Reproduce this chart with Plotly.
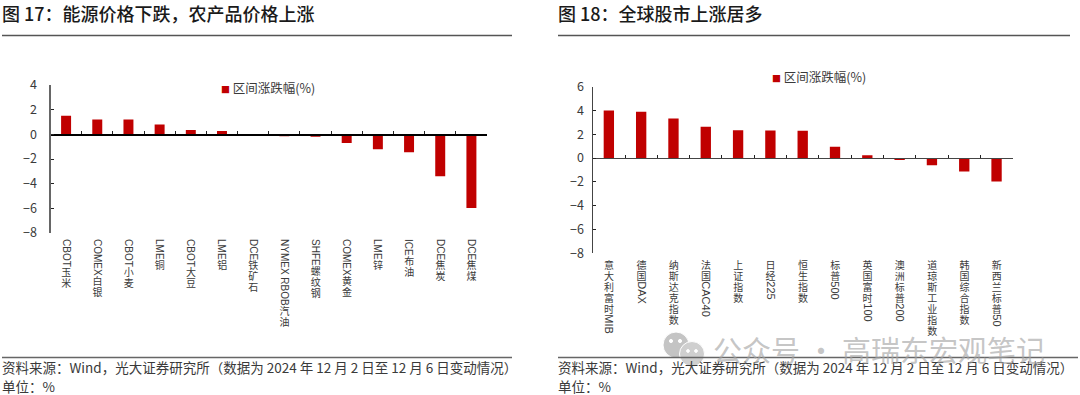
import plotly.graph_objects as go

W, H = 1080, 395
FONT = "Noto Sans CJK SC"
LABEL_FONT = "Liberation Sans, Noto Sans CJK SC"
RED = "#c00000"
INK = "#3a3a3a"

left_categories = ["CBOT玉米", "COMEX白银", "CBOT小麦", "LME铜", "CBOT大豆", "LME铝", "DCE铁矿石",
                   "NYMEX RBOB汽油", "SHFE螺纹钢", "COMEX黄金", "LME锌", "ICE布油", "DCE焦炭", "DCE焦煤"]
left_values = [1.5, 1.2, 1.2, 0.8, 0.35, 0.27, 0.0, -0.15, -0.2, -0.7, -1.2, -1.45, -3.4, -5.97]
right_categories = ["意大利富时MIB", "德国DAX", "纳斯达克指数", "法国CAC40", "上证指数", "日经225", "恒生指数",
                    "标普500", "英国富时100", "澳洲标普200", "道琼斯工业指数", "韩国综合指数", "新西兰标普50"]
right_values = [4.0, 3.89, 3.33, 2.63, 2.35, 2.32, 2.3, 0.95, 0.25, -0.17, -0.61, -1.12, -1.96]
left_yticks = [4, 2, 0, -2, -4, -6, -8]
right_yticks = [6, 4, 2, 0, -2, -4, -6, -8]
series_name = "区间涨跌幅(%)"
left_title = "图 17：能源价格下跌，农产品价格上涨"
right_title = "图 18：全球股市上涨居多"
source_text = "资料来源：Wind，光大证券研究所（数据为 2024 年 12 月 2 日至 12 月 6 日变动情况）"
unit_text = "单位：%"
watermark_text = "公众号 · 高瑞东宏观笔记"


def px(x):
    return x / W


def py(y):
    return 1 - y / H


fig = go.Figure()
panels = [
    dict(n=1, xname="x", yname="y", zname="x3", cats=left_categories, vals=left_values, ticks=left_yticks,
         x0=50.5, x1=487, top=85, bot=233, ywidth=2, ycolor="#666666", zcolor="#000000",
         lab=11, xoff=5, yoff=9),
    dict(n=2, xname="x2", yname="y2", zname="x4", cats=right_categories, vals=right_values, ticks=right_yticks,
         x0=592.7, x1=1012.7, top=86.7, bot=253.3, ywidth=1.2, ycolor="#444444", zcolor="#444444",
         lab=11, xoff=5, yoff=5),
]
layout = {}
for p in panels:
    xa, ya, xz = p["xname"], p["yname"], p["zname"]
    fig.add_trace(go.Bar(x=list(range(len(p["cats"]))), y=p["vals"], xaxis=xa, yaxis=ya, name=series_name,
                         marker=dict(color=RED, line=dict(width=0)), width=0.32, showlegend=False,
                         hoverinfo="skip"))
    # invisible trace that keeps the zero-crossing tick axis alive
    fig.add_trace(go.Scatter(x=[0], y=[0], xaxis=xz, yaxis=ya, mode="markers", marker=dict(opacity=0),
                             showlegend=False, hoverinfo="skip"))
    n_cat = len(p["cats"])
    dom_y = [py(p["bot"]), py(p["top"])]
    dom_x = [px(p["x0"]), px(p["x1"])]
    lo, hi = min(p["ticks"]), max(p["ticks"])
    zero_pos = dom_y[0] + (0 - lo) / (hi - lo) * (dom_y[1] - dom_y[0])
    layout["xaxis" + xa[1:]] = dict(domain=dom_x, anchor=ya, range=[-0.5, n_cat - 0.5], tickmode="array",
                                    tickvals=list(range(n_cat)), ticktext=p["cats"], tickangle=90, showline=False,
                                    showgrid=False, zeroline=False, ticks="", ticklen=0,
                                    ticklabelstandoff=p["xoff"],
                                    tickfont=dict(family=LABEL_FONT, size=p["lab"], color=INK))
    layout["yaxis" + ya[1:]] = dict(domain=dom_y, anchor=xa, range=[lo, hi], tickmode="array", tickvals=p["ticks"],
                                    showgrid=False, zeroline=False, showline=True, linecolor=p["ycolor"],
                                    linewidth=p["ywidth"], ticks="inside", ticklen=3, tickwidth=1,
                                    ticklabelstandoff=p["yoff"],
                                    tickcolor="#222222", tickfont=dict(family=FONT, size=12.5, color=INK))
    layout["xaxis" + xz[1:]] = dict(domain=dom_x, anchor="free", overlaying=xa, position=zero_pos,
                                    range=[-0.5, n_cat - 0.5], tickmode="array",
                                    tickvals=[i - 0.5 for i in range(1, n_cat + 1)], showticklabels=False,
                                    showgrid=False, zeroline=False, showline=True, linecolor=p["zcolor"],
                                    linewidth=1.2, ticks="inside", ticklen=3, tickwidth=1, tickcolor="#222222")

annotations = []


def note(text, x, y, size, color="#222222", anchor="left", weight=None):
    font = dict(family=FONT, size=size, color=color)
    if weight:
        font["weight"] = weight
    annotations.append(dict(text=text, x=px(x), y=py(y), xref="paper", yref="paper", showarrow=False,
                            xanchor=anchor, yanchor="middle", align="left", font=font))


legend_text = f'<span style="color:{RED};font-size:9px">■</span> {series_name}'
note(left_title, 0, 13, 18, "#1a1a1a", weight=500)
note(right_title, 556, 13, 18, "#1a1a1a", weight=500)
note(legend_text, 218.5, 87.5, 12.5, INK)
note(legend_text, 769.5, 76.5, 12.5, INK)
for x0 in (0, 556):
    note(source_text, x0, 367, 13.5, INK)
    note(unit_text, x0, 386, 13.5, INK)
note(watermark_text, 711, 349, 29, "rgba(165,165,165,0.65)")

shapes = []
for x0, x1 in ((2, 512), (558, 1070)):
    shapes.append(dict(type="line", xref="paper", yref="paper", x0=px(x0), x1=px(x1), y0=py(35.5), y1=py(35.5),
                       line=dict(color="#555555", width=1.5)))
for x0, x1 in ((2, 512), (558, 1078)):
    shapes.append(dict(type="line", xref="paper", yref="paper", x0=px(x0), x1=px(x1), y0=py(357.5), y1=py(357.5),
                       line=dict(color="#666666", width=1.5)))
# watermark logo
for cx, cy, r, col in ((676, 345, 13, "#c4c4c4"), (692, 354, 12.5, "#cfcfcf"),
                       (671, 341, 1.6, "white"), (680, 341, 1.6, "white"),
                       (688, 351, 1.4, "white"), (696, 351, 1.4, "white")):
    shapes.append(dict(type="circle", xref="paper", yref="paper", x0=px(cx - r), x1=px(cx + r),
                       y0=py(cy - r), y1=py(cy + r), fillcolor=col, line=dict(color="white", width=1), layer="below"))

fig.update_layout(width=W, height=H, margin=dict(l=0, r=0, t=0, b=0, autoexpand=False), paper_bgcolor="white",
                  plot_bgcolor="rgba(0,0,0,0)", annotations=annotations, shapes=shapes, barmode="overlay", **layout)

# Tick labels stay rotated 90 degrees as a whole; each CJK glyph is turned back upright inside the label.
post = """
document.body.style.margin = '0';
var gd = document.getElementById('{plot_id}');
var ctx = document.createElement('canvas').getContext('2d');
var NS = 'http://www.w3.org/2000/svg';
function upright(selector, latin, step, glyph) {
  gd.querySelectorAll(selector).forEach(function (t) {
    var x0 = parseFloat(t.getAttribute('x') || '0');
    var y0 = parseFloat(t.getAttribute('y') || '0');
    var pos = x0;
    var runs = t.textContent.match(/[\\x00-\\x7f]+|[^\\x00-\\x7f]+/g) || [];
    t.textContent = '';
    runs.forEach(function (run) {
      var s = document.createElementNS(NS, 'tspan');
      s.textContent = run;
      if (/^[\\x00-\\x7f]/.test(run)) {
        s.style.fontSize = latin + 'px';
        s.setAttribute('x', pos);
        s.setAttribute('y', y0);
        ctx.font = latin + 'px "Liberation Sans"';
        pos += ctx.measureText(run).width;
      } else {
        var xs = [];
        for (var k = 0; k < run.length; k++) {
          xs.push(pos + (step - glyph) / 2 + 0.88 * glyph + k * step);
        }
        s.style.fontSize = glyph + 'px';
        s.setAttribute('x', xs.join(' '));
        s.setAttribute('y', y0 + 0.12 * glyph);
        s.setAttribute('rotate', '-90');
        pos += run.length * step;
      }
      t.appendChild(s);
    });
  });
}
upright('.xtick text', 10, 11, 10);
upright('.x2tick text', 11, 11, 10);
"""
fig.write_html("out.html", post_script=post, config={"displayModeBar": False, "staticPlot": True})
